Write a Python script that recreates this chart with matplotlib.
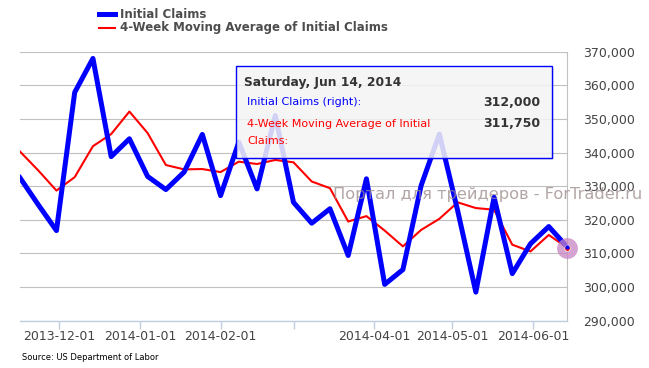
import matplotlib
matplotlib.use("Agg")
import matplotlib.pyplot as plt
import matplotlib.dates as mdates
from matplotlib.lines import Line2D
from matplotlib.patches import Rectangle
import pandas as pd

dates = ["2013-11-16", "2013-11-23", "2013-11-30", "2013-12-07", "2013-12-14",
         "2013-12-21", "2013-12-28", "2014-01-04", "2014-01-11", "2014-01-18",
         "2014-01-25", "2014-02-01", "2014-02-08", "2014-02-15", "2014-02-22",
         "2014-03-01", "2014-03-08", "2014-03-15", "2014-03-22", "2014-03-29",
         "2014-04-05", "2014-04-12", "2014-04-19", "2014-04-26", "2014-05-03",
         "2014-05-10", "2014-05-17", "2014-05-24", "2014-05-31", "2014-06-07",
         "2014-06-14"]
initial_claims = [332500, 324500, 316800, 357900, 368000, 338800, 344100, 332900,
                  329000, 334200, 345400, 327200, 343100, 329200, 351000, 325200,
                  319000, 323300, 309400, 332200, 300800, 305200, 330200, 345500,
                  322800, 298500, 326700, 304000, 312900, 318000, 312000]
moving_avg = [340300, 334700, 328700, 332700, 341900, 345500, 352200, 345800,
              336300, 335000, 335100, 334200, 337300, 336600, 337800, 337100,
              331400, 329400, 319500, 321100, 316800, 312100, 317000, 320300,
              325200, 323500, 323000, 312600, 310600, 315500, 311750]
month_ticks = ["2013-12-01", "2014-01-01", "2014-02-01", "2014-03-01",
               "2014-04-01", "2014-05-01", "2014-06-01"]
month_labels = ["2013-12-01", "2014-01-01", "2014-02-01", "",
                "2014-04-01", "2014-05-01", "2014-06-01"]
y_ticks = [290000, 300000, 310000, 320000, 330000, 340000, 350000, 360000, 370000]

W, H = 649, 368
fig = plt.figure(figsize=(W / 100, H / 100), dpi=100)
plt.rcParams['font.family'] = ['DejaVu Sans']


def fx(px):
    return px / W


def fy(py):
    return 1 - py / H


ax = fig.add_axes([fx(20), fy(320.7), fx(567) - fx(20), fy(51.7) - fy(320.7)])
x = pd.to_datetime(dates)
ax.plot(x, moving_avg, color='#ff0000', lw=1.5, solid_joinstyle='round', zorder=3)
ax.plot(x, initial_claims, color='#0000ff', lw=3.6, solid_joinstyle='round', zorder=4)

ax.set_xlim(x[0], x[-1])
ax.set_ylim(290000, 370000)
ax.set_yticks(y_ticks)
ax.set_yticklabels([f"{v:,}" for v in y_ticks])
ax.yaxis.tick_right()
ax.tick_params(axis='y', length=0, pad=11.5, labelsize=9, labelcolor='#444444')
ax.set_xticks(pd.to_datetime(month_ticks))
ax.set_xticklabels(month_labels)
ax.tick_params(axis='x', length=6, width=1, color='#c0d0e0', pad=1,
               labelsize=9, labelcolor='#444444')
ax.grid(axis='y', color='#c0c0c0', lw=0.8)
ax.set_axisbelow(True)
for s in ['left', 'top']:
    ax.spines[s].set_visible(False)
ax.spines['right'].set_color('#c0c0c0')
ax.spines['right'].set_linewidth(0.8)
ax.spines['bottom'].set_color('#c0d0e0')
ax.spines['bottom'].set_linewidth(1)

# hover halo and markers on last point
ax.plot([x[-1]], [moving_avg[-1]], 'o', ms=15, color='#c884c4', alpha=0.75,
        mec='none', zorder=5, clip_on=False)
ax.plot([x[-1]], [moving_avg[-1]], 'o', ms=4, color='#ff0000', mec='white',
        mew=0.5, zorder=6, clip_on=False)
ax.plot([x[-1]], [initial_claims[-1]], 'o', ms=2, color='#0000ff', zorder=6,
        clip_on=False)

# watermark
fig.text(fx(333), fy(194), "Портал для трейдеров - ForTrader.ru", fontsize=11.7,
         color='#9a8888', alpha=0.75, va='center', ha='left', zorder=7)

# legend
fig.add_artist(Line2D([fx(99), fx(115)], [fy(14), fy(14)], color='#0000ff', lw=3.6))
fig.add_artist(Line2D([fx(99), fx(115)], [fy(28), fy(28)], color='#ff0000', lw=1.5))
fig.text(fx(120), fy(14), "Initial Claims", fontsize=8.5, fontweight='bold',
         color='#4d4d4d', va='center', ha='left')
fig.text(fx(120), fy(28), "4-Week Moving Average of Initial Claims", fontsize=8.5,
         fontweight='bold', color='#4d4d4d', va='center', ha='left')

# tooltip
shadow = Rectangle((fx(238), fy(160)), fx(552) - fx(236), fy(66) - fy(158),
                   transform=fig.transFigure, facecolor='#000000', alpha=0.08,
                   edgecolor='none', zorder=8)
fig.add_artist(shadow)
box = Rectangle((fx(236), fy(158)), fx(552) - fx(236), fy(66) - fy(158),
                transform=fig.transFigure, facecolor='#f7f7f7', alpha=0.85,
                edgecolor='none', zorder=9)
fig.add_artist(box)
border = Rectangle((fx(236), fy(158)), fx(552) - fx(236), fy(66) - fy(158),
                   transform=fig.transFigure, facecolor='none', edgecolor='#0000ff',
                   lw=1, zorder=10)
fig.add_artist(border)
fig.text(fx(244), fy(82.5), "Saturday, Jun 14, 2014", fontsize=8.8, fontweight='bold',
         color='#333333', va='center', ha='left', zorder=11)
fig.text(fx(247), fy(102), "Initial Claims (right):", fontsize=8, color='#0000ff',
         va='center', ha='left', zorder=11)
fig.text(fx(540), fy(102), f"{initial_claims[-1]:,}", fontsize=9, fontweight='bold',
         color='#333333', va='center', ha='right', zorder=11)
fig.text(fx(247), fy(124), "4-Week Moving Average of Initial", fontsize=8,
         color='#ff0000', va='center', ha='left', zorder=11)
fig.text(fx(247), fy(140.5), "Claims:", fontsize=8, color='#ff0000',
         va='center', ha='left', zorder=11)
fig.text(fx(540), fy(124), f"{moving_avg[-1]:,}", fontsize=9, fontweight='bold',
         color='#333333', va='center', ha='right', zorder=11)

# source
fig.text(fx(22), fy(357.5), "Source: US Department of Labor", fontsize=6,
         color='#000000', va='center', ha='left')

fig.savefig("out.png", dpi=100)
